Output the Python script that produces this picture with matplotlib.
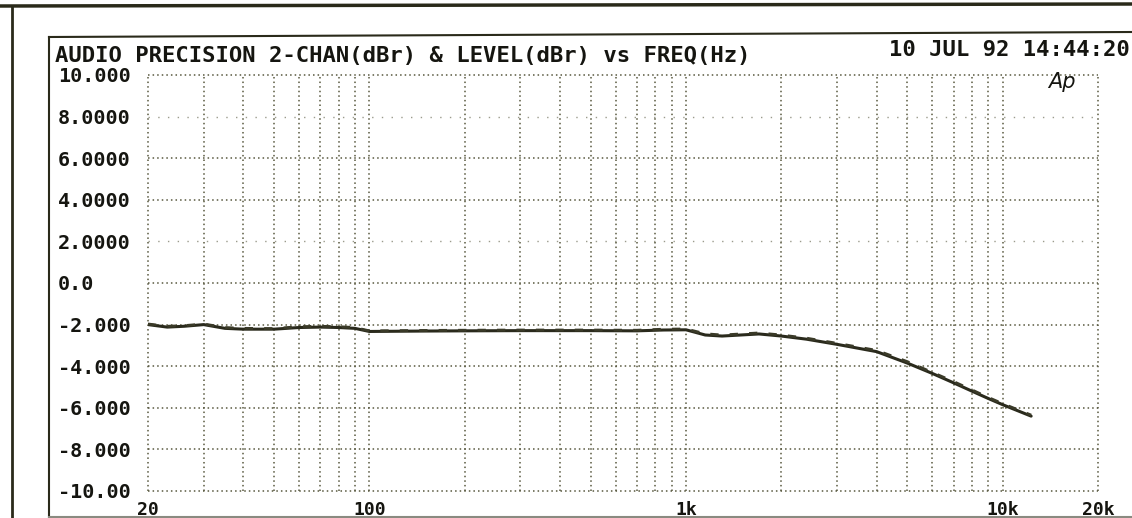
import matplotlib
matplotlib.use('Agg')
import matplotlib.pyplot as plt
from matplotlib.lines import Line2D
from matplotlib.ticker import FixedLocator, NullFormatter

# 讀圖估計的資料 (Hz, dBr)
freq = [20, 23, 26, 30, 35, 40, 50, 60, 70, 80, 90, 100, 150, 200, 300,
        500, 700, 850, 1000, 1150, 1300, 1700, 2000, 2400, 3000, 4000,
        5000, 6000, 7000, 8000, 9000, 10000, 12300]
chan_a = [-2.0, -2.12, -2.08, -2.0, -2.18, -2.22, -2.22, -2.14, -2.12, -2.14,
          -2.18, -2.33, -2.31, -2.3, -2.29, -2.29, -2.3, -2.26, -2.25, -2.5,
          -2.55, -2.45, -2.55, -2.7, -2.95, -3.3, -3.85, -4.35, -4.8, -5.2,
          -5.55, -5.85, -6.4]
chan_b = [-1.97, -2.08, -2.05, -1.97, -2.14, -2.18, -2.19, -2.1, -2.08, -2.1,
          -2.14, -2.3, -2.28, -2.27, -2.26, -2.26, -2.27, -2.22, -2.21, -2.44,
          -2.5, -2.4, -2.5, -2.65, -2.9, -3.24, -3.78, -4.3, -4.74, -5.14,
          -5.5, -5.8, -6.35]

x_ticks = [20, 100, 1000, 10000, 20000]
x_labels = ['20', '100', '1k', '10k', '20k']
y_ticks = [10, 8, 6, 4, 2, 0, -2, -4, -6, -8, -10]
y_labels = ['10.000', '8.0000', '6.0000', '4.0000', '2.0000', '0.0',
            '-2.000', '-4.000', '-6.000', '-8.000', '-10.00']

title = 'AUDIO PRECISION 2-CHAN(dBr) & LEVEL(dBr) vs FREQ(Hz)'
stamp = '10 JUL 92 14:44:20'

INK = '#151510'
GRID = '#58583f'
MONO = ['DejaVu Sans Mono']


def main():
    W, H = 1132, 518
    fig = plt.figure(figsize=(W / 100, H / 100), dpi=100)
    fig.patch.set_facecolor('white')

    # 繪圖區 (像素換算)
    left, right, top, bottom = 148, 1098, 75, 491
    ax = fig.add_axes([left / W, 1 - bottom / H, (right - left) / W, (bottom - top) / H])
    ax.set_xscale('log')
    ax.set_xlim(20, 20000)
    ax.set_ylim(-10, 10)
    for s in ax.spines.values():
        s.set_visible(False)

    # 格線
    minors = []
    for dec in [10, 100, 1000, 10000]:
        for m in range(2, 10):
            v = dec * m
            if 20 <= v <= 20000:
                minors.append(v)
    for v in sorted(set(minors + x_ticks)):
        ax.axvline(v, color=GRID, lw=1.1, ls=(0, (1, 2)), clip_on=False, zorder=1)
    for v in y_ticks:
        if v in (8, 2):
            ax.axhline(v, color=GRID, lw=1.0, ls=(0, (1, 6)), alpha=0.6, clip_on=False, zorder=1)
        else:
            ax.axhline(v, color=GRID, lw=1.1, ls=(0, (1, 2)), clip_on=False, zorder=1)

    ax.xaxis.set_major_locator(FixedLocator(x_ticks))
    ax.xaxis.set_minor_locator(FixedLocator([]))
    ax.xaxis.set_minor_formatter(NullFormatter())
    ax.set_xticklabels(x_labels)
    ax.set_yticks(y_ticks)
    ax.set_yticklabels(y_labels)
    ax.tick_params(axis='both', which='both', length=0)
    ax.tick_params(axis='x', pad=7.5)
    ax.tick_params(axis='y', pad=65)
    for t in ax.get_xticklabels():
        t.set_fontfamily(MONO)
        t.set_fontweight('bold')
        t.set_fontsize(13)
        t.set_color(INK)
    for t in ax.get_yticklabels():
        t.set_fontfamily(MONO)
        t.set_fontweight('bold')
        t.set_fontsize(14.5)
        t.set_color(INK)
        t.set_horizontalalignment('left')

    # 兩個通道
    ax.plot(freq, chan_a, color='#2a2a1c', lw=2.2, solid_capstyle='round', zorder=3)
    ax.plot(freq, chan_b, color='#3a3a28', lw=2.0, ls=(0, (3, 4)), zorder=3)

    # 標題與時間
    fig.text(55 / W, 1 - 56 / H, title, family=MONO, fontweight='bold',
             fontsize=16, color=INK, ha='left', va='center')
    fig.text(1130 / W, 1 - 50 / H, stamp, family=MONO, fontweight='bold',
             fontsize=16, color=INK, ha='right', va='center')
    ax.text(0.962, 0.983, 'Ap', transform=ax.transAxes, fontsize=15,
            fontstyle='italic', color=INK, ha='center', va='center', fontweight='light')

    # 外框
    fig.add_artist(Line2D([0, 1], [1 - 6 / H, 1 - 4 / H], transform=fig.transFigure,
                          color='#2a2a1a', lw=2.5))
    fig.add_artist(Line2D([12 / W, 12 / W], [0, 1 - 6 / H], transform=fig.transFigure,
                          color='#2a2a1a', lw=2.0))
    fig.add_artist(Line2D([49 / W, 1], [1 - 37 / H, 1 - 32 / H], transform=fig.transFigure,
                          color='#2a2a1a', lw=1.5))
    fig.add_artist(Line2D([49 / W, 49 / W], [0, 1 - 37 / H], transform=fig.transFigure,
                          color='#2a2a1a', lw=1.5))
    fig.add_artist(Line2D([49 / W, 1], [1 / H, 1 / H], transform=fig.transFigure,
                          color='#8a8a80', lw=1.5))

    fig.savefig('out.png', dpi=100, facecolor='white')


if __name__ == '__main__':
    main()
